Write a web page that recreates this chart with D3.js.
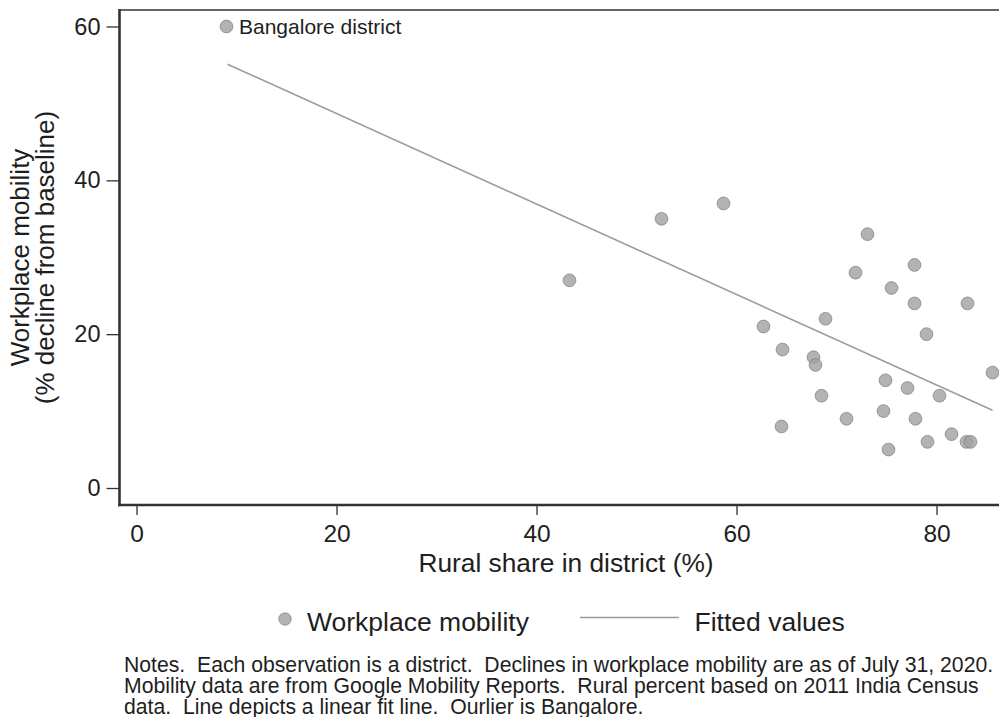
<!DOCTYPE html>
<html>
<head>
<meta charset="utf-8">
<script src="https://cdn.jsdelivr.net/npm/d3@7"></script>
<style>
  html, body { margin: 0; padding: 0; background: #fff; }
  svg { display: block; font-family: "Liberation Sans", Arial, Helvetica, sans-serif; }
  text { white-space: pre; }
</style>
</head>
<body>
<svg id="chart" width="999" height="717"></svg>
<script>
// ---- data ----
const ruralShare = [43.3, 52.5, 58.7, 73.1, 71.9, 77.8, 75.5, 77.8, 83.1, 68.9,
                    62.7, 79.0, 64.6, 67.7, 67.9, 85.6, 74.9, 77.1, 80.3, 68.5,
                    74.7, 77.9, 71.0, 64.5, 81.5, 79.1, 83.0, 83.4, 75.2];
const mobilityDecline = [27.0, 35.0, 37.0, 33.0, 28.0, 29.0, 26.0, 24.0, 24.0, 22.0,
                         21.0, 20.0, 18.0, 17.0, 16.0, 15.0, 14.0, 13.0, 12.0, 12.0,
                         10.0, 9.0, 9.0, 8.0, 7.0, 6.0, 6.0, 6.0, 5.0];
const outlierName = ["Bangalore district"];
const outlierX = [9.0];
const outlierY = [60.0];
const fitX = [9.1, 85.6];
const fitY = [55.1, 10.1];
const xTicks = [0, 20, 40, 60, 80];
const yTicks = [0, 20, 40, 60];
const legendLabels = ["Workplace mobility", "Fitted values"];
const notes = [
  "Notes.  Each observation is a district.  Declines in workplace mobility are as of July 31, 2020.",
  "Mobility data are from Google Mobility Reports.  Rural percent based on 2011 India Census",
  "data.  Line depicts a linear fit line.  Ourlier is Bangalore."
];

// ---- layout ----
const svg = d3.select("#chart");
const x = d3.scaleLinear().domain([0, 80]).range([136.5, 936.5]);
const y = d3.scaleLinear().domain([0, 60]).range([488, 26.5]);
const axisLeftX = 119.5, axisBottomY = 505, frameTopY = 10;
const textColor = "#1e1e1e";
const markerFill = "#a0a0a0", markerStroke = "#7e7e7e";

// frame top
svg.append("line").attr("x1", axisLeftX).attr("x2", 999).attr("y1", frameTopY).attr("y2", frameTopY)
  .attr("stroke", "#666").attr("stroke-width", 2);

// fit line
svg.append("path")
  .datum(fitX.map((d, i) => [d, fitY[i]]))
  .attr("d", d3.line().x(d => x(d[0])).y(d => y(d[1])))
  .attr("fill", "none").attr("stroke", "#9c9c9c").attr("stroke-width", 1.6);

// points
const pts = ruralShare.map((d, i) => ({x: d, y: mobilityDecline[i]}));
svg.append("g").selectAll("circle").data(pts).join("circle")
  .attr("cx", d => x(d.x)).attr("cy", d => y(d.y)).attr("r", 6.4)
  .attr("fill", markerFill).attr("fill-opacity", 0.8)
  .attr("stroke", markerStroke).attr("stroke-opacity", 0.7).attr("stroke-width", 1);

// outlier
svg.append("g").selectAll("circle").data(outlierX.map((d, i) => ({x: d, y: outlierY[i]}))).join("circle")
  .attr("cx", d => x(d.x)).attr("cy", d => y(d.y)).attr("r", 6.4)
  .attr("fill", markerFill).attr("fill-opacity", 0.8)
  .attr("stroke", markerStroke).attr("stroke-opacity", 0.7).attr("stroke-width", 1);
svg.append("g").selectAll("text").data(outlierName).join("text")
  .attr("x", (d, i) => x(outlierX[i]) + 12.5).attr("y", (d, i) => y(outlierY[i]) + 7.5)
  .attr("font-size", 21).attr("fill", textColor).text(d => d);

// y axis
const yAxis = d3.axisLeft(y).tickValues(yTicks).tickSize(13).tickPadding(6);
const gy = svg.append("g").attr("transform", `translate(${axisLeftX},0)`).call(yAxis);
gy.select(".domain").remove();
gy.selectAll(".tick line").attr("stroke", "#333").attr("stroke-width", 1.3);
gy.selectAll(".tick text").attr("font-size", 23.5).attr("fill", textColor)
  .attr("font-family", "Liberation Sans, Arial, sans-serif");
svg.append("line").attr("x1", axisLeftX).attr("x2", axisLeftX).attr("y1", frameTopY - 1).attr("y2", axisBottomY + 1.3)
  .attr("stroke", "#333").attr("stroke-width", 2.6);

// x axis
const xAxis = d3.axisBottom(x).tickValues(xTicks).tickSize(10).tickPadding(10);
const gx = svg.append("g").attr("transform", `translate(0,${axisBottomY})`).call(xAxis);
gx.select(".domain").remove();
gx.selectAll(".tick line").attr("stroke", "#333").attr("stroke-width", 1.3);
gx.selectAll(".tick text").attr("font-size", 24.5).attr("fill", textColor)
  .attr("font-family", "Liberation Sans, Arial, sans-serif");
svg.append("line").attr("x1", axisLeftX - 1.3).attr("x2", 999).attr("y1", axisBottomY).attr("y2", axisBottomY)
  .attr("stroke", "#333").attr("stroke-width", 2.6);

// axis titles
svg.append("text").attr("x", 566).attr("y", 571.5).attr("text-anchor", "middle")
  .attr("font-size", 26.3).attr("fill", textColor).text("Rural share in district (%)");
const yt = svg.append("text").attr("transform", "translate(29,257.5) rotate(-90)").attr("text-anchor", "middle")
  .attr("font-size", 26).attr("fill", textColor);
yt.append("tspan").attr("x", 0).attr("y", 0).text("Workplace mobility");
yt.append("tspan").attr("x", 0).attr("y", 24.5).text("(% decline from baseline)");

// legend
const lg = svg.append("g");
lg.append("circle").attr("cx", 285).attr("cy", 619).attr("r", 6.2)
  .attr("fill", markerFill).attr("fill-opacity", 0.8).attr("stroke", markerStroke).attr("stroke-opacity", 0.7);
lg.append("text").attr("x", 307).attr("y", 631).attr("font-size", 26.5).attr("fill", textColor).text(legendLabels[0]);
lg.append("line").attr("x1", 580).attr("x2", 679).attr("y1", 617.5).attr("y2", 617.5)
  .attr("stroke", "#9c9c9c").attr("stroke-width", 1.6);
lg.append("text").attr("x", 694.5).attr("y", 631).attr("font-size", 26.5).attr("fill", textColor).text(legendLabels[1]);

// notes
svg.append("g").selectAll("text").data(notes).join("text")
  .attr("x", 124).attr("y", (d, i) => 672 + i * 21)
  .attr("font-size", 21.2).attr("fill", textColor).text(d => d);
</script>
</body>
</html>
